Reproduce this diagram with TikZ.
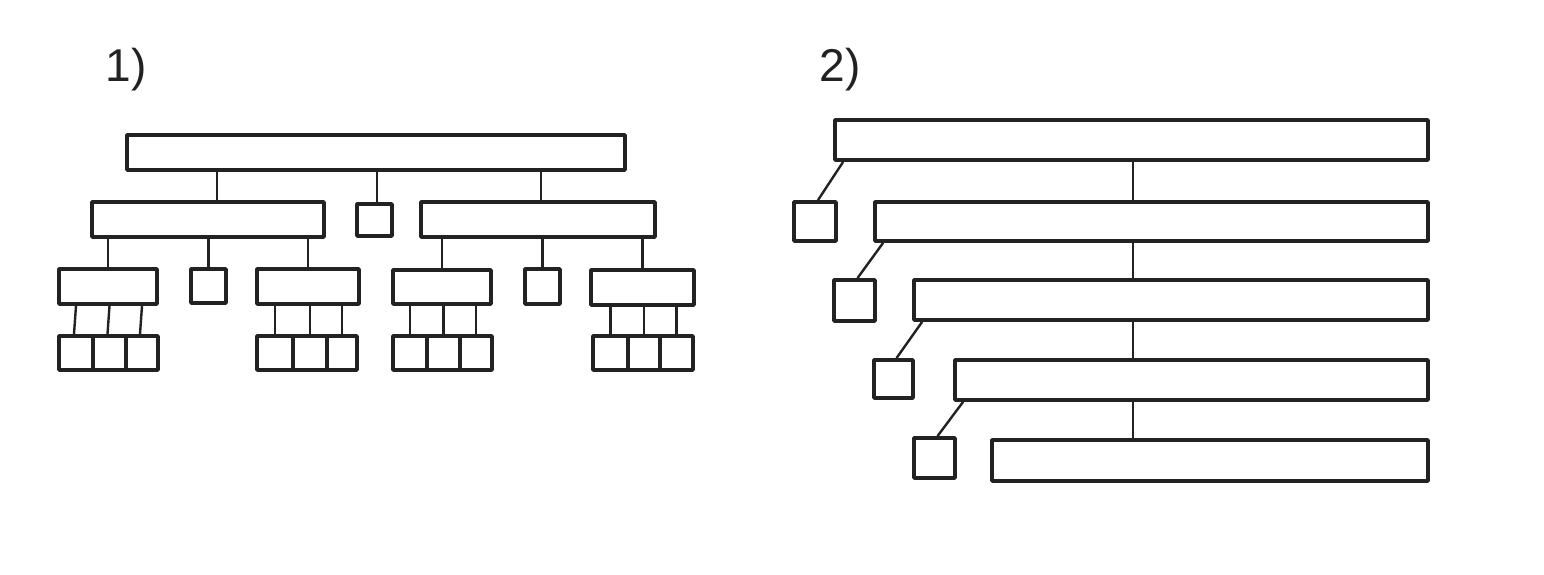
\documentclass[tikz,border=0pt]{standalone}
\usepackage{fontspec}
\setmainfont{Liberation Sans}
\usetikzlibrary{fit}
\definecolor{ink}{HTML}{222222}
\newcommand\bx[5]{\node[box, fit={(#2,#3)(#4,#5)}] (#1) {};}
\begin{document}
\begin{tikzpicture}[x=0.5pt,y=-0.5pt,
  box/.style={draw=ink, line width=1.9pt, inner sep=0pt, line join=round},
  link/.style={draw=ink, line width=1.2pt},
  lbl/.style={font=\fontsize{23}{27}\selectfont, text=ink}]
\useasboundingbox (0,0) rectangle (1544,574);
\fill[white] (0,0) rectangle (1544,574);
% ---------- diagram 1 ----------
\node[lbl] (n1) at (126,70) {1)};
\bx{T}{127}{135}{625}{170}
\bx{La}{92}{202}{324}{237}
\bx{Lm}{357}{204}{392}{236}
\bx{Lb}{421}{202}{655}{237}
\bx{Ga}{59}{269}{157}{304}
\bx{Sa}{191}{269}{226}{303}
\bx{Gb}{257}{269}{359}{304}
\bx{Gc}{393}{270}{491}{304}
\bx{Sb}{525}{269}{560}{304}
\bx{Gd}{591}{270}{694}{305}
\bx{a1}{59}{336}{93}{370}
\bx{a2}{93}{336}{126}{370}
\bx{a3}{126}{336}{158}{370}
\bx{b1}{257}{336}{293}{370}
\bx{b2}{293}{336}{327}{370}
\bx{b3}{327}{336}{357}{370}
\bx{c1}{393}{336}{427}{370}
\bx{c2}{427}{336}{460}{370}
\bx{c3}{460}{336}{492}{370}
\bx{d1}{593}{336}{628}{370}
\bx{d2}{628}{336}{660}{370}
\bx{d3}{660}{336}{693}{370}
\coordinate (k1) at (217,0);
\coordinate (k2) at (377,0);
\coordinate (k3) at (541,0);
\draw[link] (T.south -| k1) -- (La.north -| k1);
\draw[link] (T.south -| k2) -- (Lm.north -| k2);
\draw[link] (T.south -| k3) -- (Lb.north -| k3);
\foreach \c in {Ga,Sa,Gb}{\draw[link] (La.south -| \c.north) -- (\c.north);}
\foreach \c in {Gc,Sb,Gd}{\draw[link] (Lb.south -| \c.north) -- (\c.north);}
\foreach \c in {a1,a2,a3}{\draw[link] (Ga.south -| \c.north) -- ([xshift=-1pt]\c.north);}
\foreach \c in {b1,b2,b3}{\draw[link] (Gb.south -| \c.north) -- (\c.north);}
\foreach \c in {c1,c2,c3}{\draw[link] (Gc.south -| \c.north) -- (\c.north);}
\foreach \c in {d1,d2,d3}{\draw[link] (Gd.south -| \c.north) -- (\c.north);}
% ---------- diagram 2 ----------
\node[lbl] (n2) at (840,70) {2)};
\bx{R1}{835}{120}{1428}{160}
\bx{Q1}{794}{202}{836}{241}
\bx{R2}{875}{202}{1428}{241}
\bx{Q2}{834}{280}{875}{321}
\bx{R3}{914}{280}{1428}{320}
\bx{Q3}{874}{360}{913}{398}
\bx{R4}{955}{360}{1428}{400}
\bx{Q4}{914}{438}{955}{478}
\bx{R5}{992}{440}{1428}{481}
\coordinate (m) at (1133,0);
\draw[link] (R1.south -| m) -- (R2.north -| m);
\draw[link] (R2.south -| m) -- (R3.north -| m);
\draw[link] (R3.south -| m) -- (R4.north -| m);
\draw[link] (R4.south -| m) -- (R5.north -| m);
\draw[link] ([xshift=5pt]R1.south west) -- ([xshift=1.5pt]Q1.north);
\draw[link] ([xshift=5pt]R2.south west) -- ([xshift=1.5pt]Q2.north);
\draw[link] ([xshift=5pt]R3.south west) -- ([xshift=1.5pt]Q3.north);
\draw[link] ([xshift=5pt]R4.south west) -- ([xshift=1.5pt]Q4.north);
\end{tikzpicture}
\end{document}
